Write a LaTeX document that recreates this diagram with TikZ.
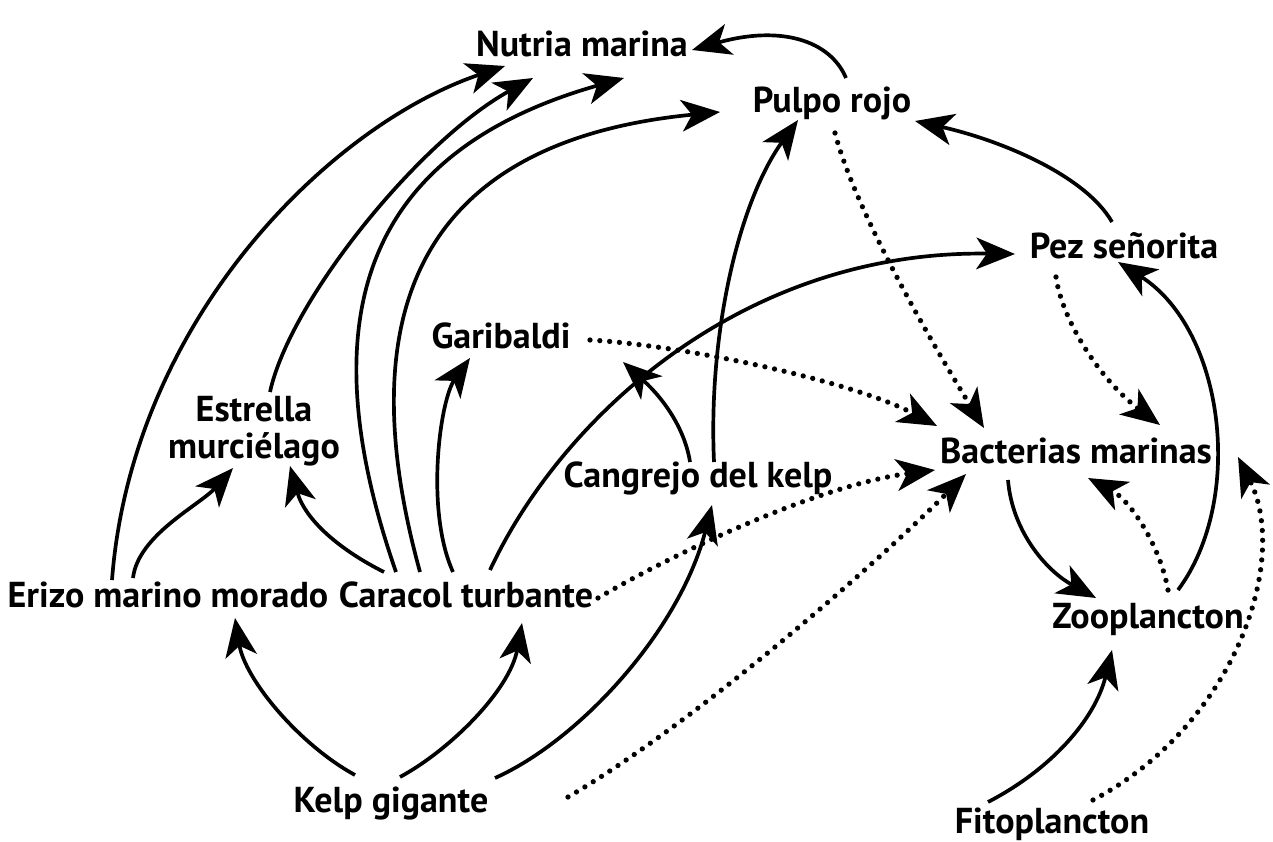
\documentclass[tikz,border=0pt]{standalone}
\usepackage{fontspec}
\setmainfont{PT Sans}
\usetikzlibrary{arrows.meta}

\begin{document}
\begin{tikzpicture}[
x=0.02cm, y=-0.02cm,
species/.style={font=\bfseries\fontsize{20.5}{21}\selectfont, inner sep=0pt, anchor=base},
feeds/.style={-{Stealth[length=22pt,width=18pt,inset=6pt]}, line width=2.1pt},
decays/.style={feeds, line width=3pt, line cap=round, dash pattern=on 0pt off 5.6pt}
]
\useasboundingbox (0,0) rectangle (1273,841);

% species
\node[species] (nutria) at (582,57) {Nutria marina};
\node[species] (pulpo) at (832,113) {Pulpo rojo};
\node[species] (pez) at (1124,258) {Pez señorita};
\node[species] (garibaldi) at (501,348) {Garibaldi};
\node[species,anchor=center,align=center] (estrella) at (254,431) {Estrella\\murciélago};
\node[species] (erizo) at (168,607) {Erizo marino morado};
\node[species] (caracol) at (466,607) {Caracol turbante};
\node[species] (cangrejo) at (698,487) {Cangrejo del kelp};
\node[species] (bacterias) at (1076,463) {Bacterias marinas};
\node[species] (zoo) at (1148,628) {Zooplancton};
\node[species] (kelp) at (391,812) {Kelp gigante};
\node[species] (fito) at (1052,833) {Fitoplancton};

% who eats whom
\draw[feeds] ([shift={(-56,-27)}]erizo.base) .. controls (132,320) and (330,125) .. ([shift={(-77,9)}]nutria.base);
\draw[feeds] ([shift={(-35,-29)}]erizo.base) .. controls (138,535) and (200,505) .. ([shift={(-21,37)}]estrella.center);
\draw[feeds] ([shift={(16,-39)}]estrella.center) .. controls (290,300) and (420,140) .. ([shift={(-49,21)}]nutria.base);
\draw[feeds] ([shift={(-70,-35)}]caracol.base) .. controls (305,310) and (370,150) .. ([shift={(42,21)}]nutria.base);
\draw[feeds] ([shift={(-46,-35)}]caracol.base) .. controls (345,300) and (430,140) .. ([shift={(-112,-1)}]pulpo.base);
\draw[feeds] ([shift={(-82,-35)}]caracol.base) .. controls (340,550) and (305,520) .. ([shift={(36,35)}]estrella.center);
\draw[feeds] ([shift={(-13,-35)}]caracol.base) .. controls (425,510) and (440,400) .. ([shift={(-31,10)}]garibaldi.base);
\draw[feeds] ([shift={(24,-37)}]caracol.base) .. controls (560,420) and (740,250) .. ([shift={(-109,-4)}]pez.base);
\draw[feeds] ([shift={(-8,-25)}]cangrejo.base) .. controls (685,430) and (665,400) .. ([shift={(122,14)}]garibaldi.base);
\draw[feeds] ([shift={(16,-25)}]cangrejo.base) .. controls (708,330) and (740,200) .. ([shift={(-34,7)}]pulpo.base);
\draw[feeds] ([shift={(14,-35)}]pulpo.base) .. controls (830,40) and (780,25) .. ([shift={(110,-7)}]nutria.base);
\draw[feeds] ([shift={(-12,-36)}]pez.base) .. controls (1085,175) and (1000,140) .. ([shift={(83,8)}]pulpo.base);
\draw[feeds] ([shift={(-36,-37)}]kelp.base) .. controls (300,745) and (245,680) .. ([shift={(67,11)}]erizo.base);
\draw[feeds] ([shift={(9,-35)}]kelp.base) .. controls (450,750) and (510,690) .. ([shift={(56,16)}]caracol.base);
\draw[feeds] ([shift={(104,-34)}]kelp.base) .. controls (580,740) and (680,630) .. ([shift={(14,18)}]cangrejo.base);
\draw[feeds] ([shift={(-68,17)}]bacterias.base) .. controls (1012,530) and (1045,570) .. ([shift={(-52,-30)}]zoo.base);
\draw[feeds] ([shift={(30,-38)}]zoo.base) .. controls (1245,500) and (1225,330) .. ([shift={(-6,4)}]pez.base);
\draw[feeds] ([shift={(-64,-31)}]fito.base) .. controls (1050,770) and (1095,720) .. ([shift={(-36,22)}]zoo.base);

% decomposition
\draw[decays] ([shift={(89,-8)}]garibaldi.base) .. controls (680,345) and (850,380) .. ([shift={(-139,-37)}]bacterias.base);
\draw[decays] ([shift={(3,20)}]pulpo.base) .. controls (855,210) and (930,340) .. ([shift={(-92,-35)}]bacterias.base);
\draw[decays] ([shift={(-68,19)}]pez.base) .. controls (1062,320) and (1100,380) .. ([shift={(84,-38)}]bacterias.base);
\draw[decays] ([shift={(132,-9)}]caracol.base) .. controls (680,550) and (820,485) .. ([shift={(-141,7)}]bacterias.base);
\draw[decays] ([shift={(177,-15)}]kelp.base) .. controls (700,720) and (880,560) .. ([shift={(-110,11)}]bacterias.base);
\draw[decays] ([shift={(20,-38)}]zoo.base) .. controls (1160,545) and (1130,500) .. ([shift={(12,15)}]bacterias.base);
\draw[decays] ([shift={(41,-33)}]fito.base) .. controls (1235,725) and (1290,560) .. ([shift={(162,-6)}]bacterias.base);

\end{tikzpicture}
\end{document}
